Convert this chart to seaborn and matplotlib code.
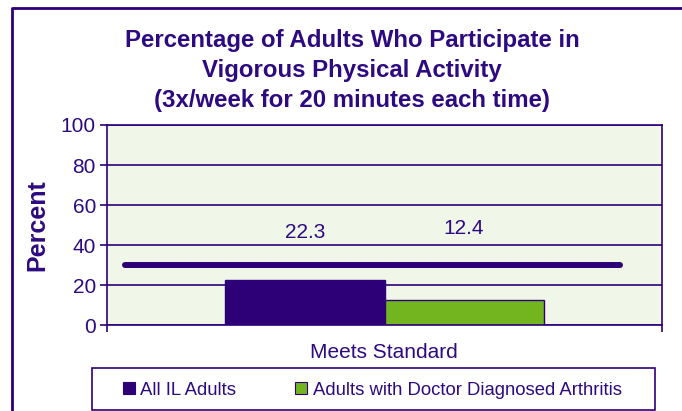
import pandas as pd
import matplotlib
matplotlib.use("Agg")
import matplotlib.pyplot as plt
import seaborn as sns
from matplotlib.lines import Line2D
from matplotlib.patches import Rectangle

# ==========================================
# data
# ==========================================
category = "Meets Standard"
groups = ["All IL Adults", "Adults with Doctor Diagnosed Arthritis"]
percents = [22.3, 12.4]
target = 30  # Healthy People target line
y_ticks = [0, 20, 40, 60, 80, 100]
title_lines = [
    "Percentage of Adults Who Participate in",
    "Vigorous Physical Activity",
    "(3x/week for 20 minutes each time)",
]

PURPLE = "#2E0A80"
BAR_PURPLE = "#2E0078"
GREEN = "#73B51E"
BG = "#F0F6E8"

sns.set_style("white")
plt.rcParams['font.family'] = ['Liberation Sans', 'DejaVu Sans']

df = pd.DataFrame({"measure": [category] * len(groups), "group": groups, "percent": percents})

fig = plt.figure(figsize=(6.82, 4.11), dpi=100)
ax = fig.add_axes([107 / 682, 1 - 325 / 411, 555 / 682, 200 / 411])
ax.set_facecolor(BG)

sns.barplot(data=df, x="measure", y="percent", hue="group",
            palette=[BAR_PURPLE, GREEN], saturation=1, width=0.573,
            edgecolor=BAR_PURPLE, linewidth=1.0, legend=False, ax=ax)

ax.set_xlim(-0.5, 0.5)
ax.set_ylim(0, 100)
ax.set_yticks(y_ticks)
ax.grid(axis="y", color=BAR_PURPLE, linewidth=1.2)
ax.set_axisbelow(True)

# target line
ax.axhline(target, xmin=0.032, xmax=0.924, color=BAR_PURPLE, linewidth=4.3,
           solid_capstyle="round", zorder=4)

# value labels
label_y = [46.5, 48.5]
for bar, val, ly in zip(ax.patches, percents, label_y):
    cx = bar.get_x() + bar.get_width() / 2
    ax.text(cx, ly, f"{val}", ha="center", va="center", fontsize=15, color=PURPLE)

for s in ax.spines.values():
    s.set_color(BAR_PURPLE)
    s.set_linewidth(1.2)

ax.tick_params(axis="y", length=5, width=1.2, color=BAR_PURPLE, labelcolor=PURPLE,
               labelsize=15, left=True, pad=3)
ax.tick_params(axis="x", length=0, labelbottom=False)
ax.set_xticks([-0.5, 0.5], minor=True)
ax.tick_params(axis="x", which="minor", length=5, width=1.2, color=BAR_PURPLE, bottom=True)
ax.set_xlabel("")
ax.set_ylabel("Percent", fontsize=18, fontweight="bold", color=PURPLE, labelpad=8)

fig.text(384 / 682, 1 - 353 / 411, category, ha="center", va="center", fontsize=15, color=PURPLE)

# title
for i, line in enumerate(title_lines):
    fig.text(352 / 682, 1 - (41 + 30 * i) / 411, line, ha="center", va="center",
             fontsize=17.3, fontweight="bold", color=PURPLE)

# legend with separate box
fig.patches.append(Rectangle((92 / 682, 1 - 410 / 411), 563 / 682, 42 / 411,
                             transform=fig.transFigure, facecolor="white",
                             edgecolor=BAR_PURPLE, linewidth=1.2, zorder=1))
handles = [Rectangle((0, 0), 1, 1, facecolor=c, edgecolor=BAR_PURPLE, linewidth=0.8)
           for c in [BAR_PURPLE, GREEN]]
fig.legend(handles, groups, loc="center left", bbox_to_anchor=(106 / 682, 1 - 390 / 411),
           ncol=2, frameon=False, fontsize=13.3, labelcolor=PURPLE,
           handlelength=0.65, handleheight=0.65, handletextpad=0.3, columnspacing=3.2)

# figure border (top and left)
fig.lines.append(Line2D([12 / 682, 12 / 682, 1], [0, 1 - 8 / 411, 1 - 8 / 411],
                        transform=fig.transFigure, color=BAR_PURPLE, linewidth=2))

fig.savefig("out.png", dpi=100)
